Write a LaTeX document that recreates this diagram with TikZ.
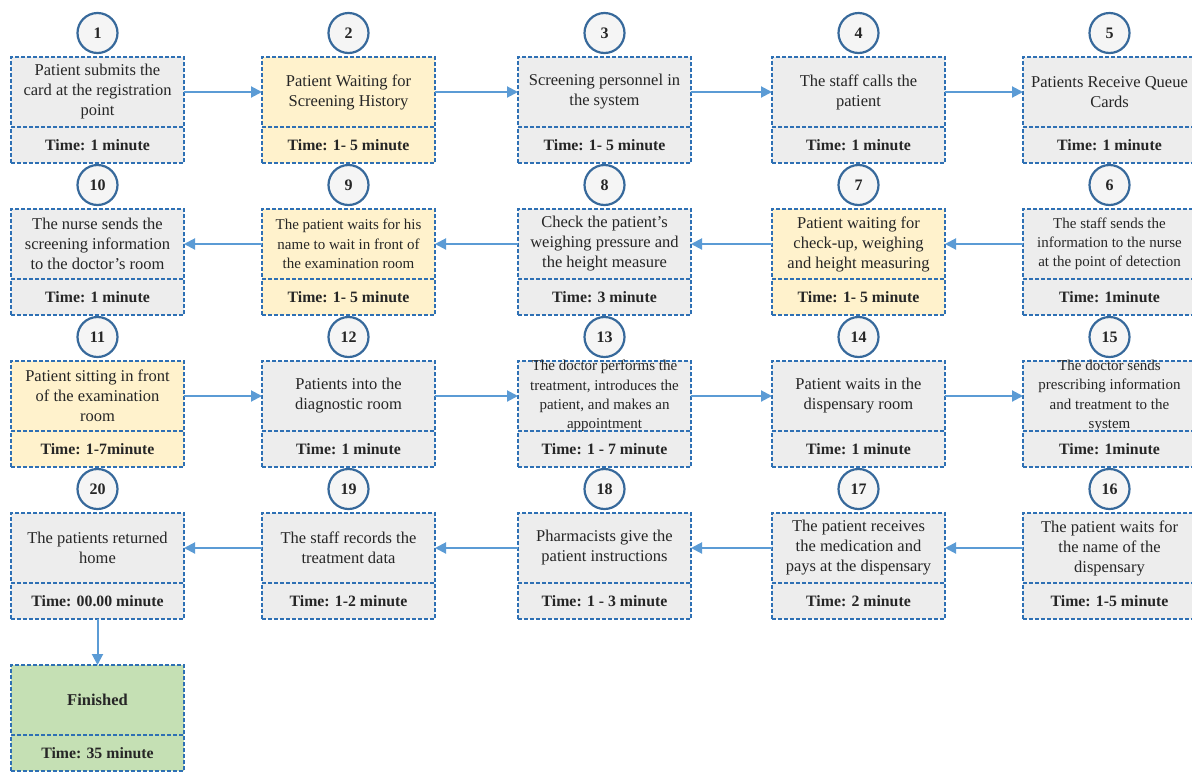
\documentclass[tikz,border=0pt]{standalone}
\usepackage{fontspec}
\setmainfont{Liberation Serif}
\usetikzlibrary{arrows.meta}
\definecolor{bord}{RGB}{46,112,180}
\definecolor{arr}{RGB}{91,155,213}
\definecolor{gfill}{RGB}{237,237,237}
\definecolor{yfill}{RGB}{255,242,204}
\definecolor{grfill}{RGB}{197,224,180}
\definecolor{cbord}{RGB}{55,105,155}
\definecolor{cfill}{RGB}{245,245,245}
\tikzset{
  upper/.style={draw=bord, line width=2pt, dash pattern=on 4pt off 2pt,
    minimum width=173pt, minimum height=70pt, inner sep=0pt, outer sep=0pt, anchor=north},
  lower/.style={upper, minimum height=36pt},
  txt/.style={align=center, font=\fontsize{16.5}{20}\selectfont, inner sep=0pt, text=black!85},
  small/.style={font=\fontsize{15}{19.3}\selectfont},
  timetxt/.style={font=\fontsize{15.8}{18}\selectfont\bfseries, inner sep=0pt, text=black!85},
  num/.style={circle, draw=cbord, line width=2.2pt, fill=cfill, minimum size=40pt,
    inner sep=0pt, font=\fontsize{16}{18}\selectfont\bfseries, text=black!85},
  flow/.style={draw=arr, line width=2pt, -{Triangle[length=11pt,width=11pt]}},
}
% #1 name, #2 x centre, #3 y top, #4 fill, #5 text, #6 time, optional text style
\newcommand\procbox[7][]{%
  \node[upper, fill=#5] (b#2) at (#3,#4) {};
  \node[txt,#1] (x#2) at (b#2.center) {#6};
  \node[lower, fill=#5] (t#2) at (b#2.south) {};
  \node[timetxt] (y#2) at (t#2.center) {#7};
}
\newcommand\numcirc[3]{%
  \node[num] (n#1) at (#2,{#3-24}) {#1};
}
\begin{document}
\begin{tikzpicture}[x=1pt, y=-1pt]
\useasboundingbox (0,0) rectangle (1192,772);
% row 1
\procbox{1}{97.5}{57}{gfill}{Patient submits the\\card at the registration\\point}{Time: 1 minute}
\procbox{2}{348.5}{57}{yfill}{Patient Waiting for\\Screening History}{Time: 1- 5 minute}
\procbox{3}{604.5}{57}{gfill}{Screening personnel in\\the system}{Time: 1- 5 minute}
\procbox{4}{858.5}{57}{gfill}{The staff calls the\\patient}{Time: 1 minute}
\procbox{5}{1109.5}{57}{gfill}{Patients Receive Queue\\Cards}{Time: 1 minute}
% row 2
\procbox{10}{97.5}{209}{gfill}{The nurse sends the\\screening information\\to the doctor's room}{Time: 1 minute}
\procbox[small]{9}{348.5}{209}{yfill}{The patient waits for his\\name to wait in front of\\the examination room}{Time: 1- 5 minute}
\procbox{8}{604.5}{209}{gfill}{Check the patient's\\weighing pressure and\\the height measure}{Time: 3 minute}
\procbox{7}{858.5}{209}{yfill}{Patient waiting for\\check-up, weighing\\and height measuring}{Time: 1- 5 minute}
\procbox[small]{6}{1109.5}{209}{gfill}{The staff sends the\\information to the nurse\\at the point of detection}{Time: 1minute}
% row 3
\procbox{11}{97.5}{361}{yfill}{Patient sitting in front\\of the examination\\room}{Time: 1-7minute}
\procbox{12}{348.5}{361}{gfill}{Patients into the\\diagnostic room}{Time: 1 minute}
\procbox[small]{13}{604.5}{361}{gfill}{The doctor performs the\\treatment, introduces the\\patient, and makes an\\appointment}{Time: 1 - 7 minute}
\procbox{14}{858.5}{361}{gfill}{Patient waits in the\\dispensary room}{Time: 1 minute}
\procbox[small]{15}{1109.5}{361}{gfill}{The doctor sends\\prescribing information\\and treatment to the\\system}{Time: 1minute}
% row 4
\procbox{20}{97.5}{513}{gfill}{The patients returned\\home}{Time: 00.00 minute}
\procbox{19}{348.5}{513}{gfill}{The staff records the\\treatment data}{Time: 1-2 minute}
\procbox{18}{604.5}{513}{gfill}{Pharmacists give the\\patient instructions}{Time: 1 - 3 minute}
\procbox{17}{858.5}{513}{gfill}{The patient receives\\the medication and\\pays at the dispensary}{Time: 2 minute}
\procbox{16}{1109.5}{513}{gfill}{The patient waits for\\the name of the\\dispensary}{Time: 1-5 minute}
% finished
\procbox{F}{97.5}{665}{grfill}{\bfseries Finished}{Time: 35 minute}
% circles
\foreach \n/\cx/\cy in {1/97.5/57, 2/348.5/57, 3/604.5/57, 4/858.5/57, 5/1109.5/57,
  10/97.5/209, 9/348.5/209, 8/604.5/209, 7/858.5/209, 6/1109.5/209,
  11/97.5/361, 12/348.5/361, 13/604.5/361, 14/858.5/361, 15/1109.5/361,
  20/97.5/513, 19/348.5/513, 18/604.5/513, 17/858.5/513, 16/1109.5/513}
  {\numcirc{\n}{\cx}{\cy}}
% connectors
\draw[flow] (b1.east) -- (b2.west);
\draw[flow] (b2.east) -- (b3.west);
\draw[flow] (b3.east) -- (b4.west);
\draw[flow] (b4.east) -- (b5.west);
\draw[flow] (b6.west) -- (b7.east);
\draw[flow] (b7.west) -- (b8.east);
\draw[flow] (b8.west) -- (b9.east);
\draw[flow] (b9.west) -- (b10.east);
\draw[flow] (b11.east) -- (b12.west);
\draw[flow] (b12.east) -- (b13.west);
\draw[flow] (b13.east) -- (b14.west);
\draw[flow] (b14.east) -- (b15.west);
\draw[flow] (b16.west) -- (b17.east);
\draw[flow] (b17.west) -- (b18.east);
\draw[flow] (b18.west) -- (b19.east);
\draw[flow] (b19.west) -- (b20.east);
\draw[flow] (t20.south) -- (bF.north);
\end{tikzpicture}
\end{document}
